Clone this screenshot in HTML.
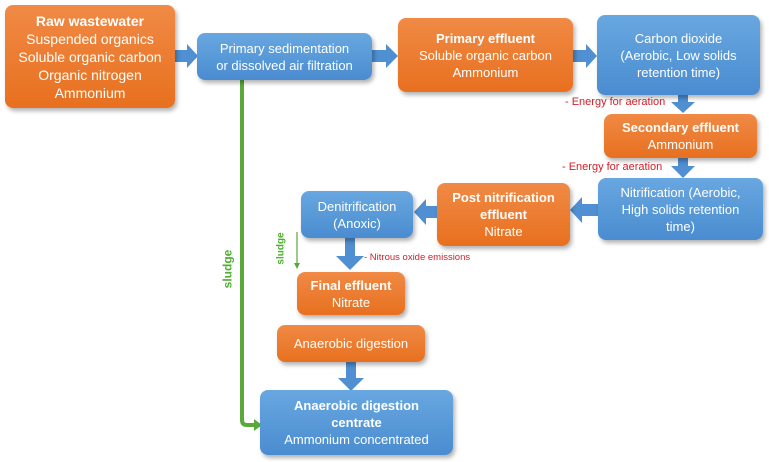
<!DOCTYPE html>
<html><head><meta charset="utf-8"><style>
body{margin:0;width:769px;height:462px;background:#fff;position:relative;overflow:hidden;font-family:"Liberation Sans",sans-serif;}
.b{position:absolute;box-sizing:border-box;border-radius:8px;color:#fff;text-align:center;display:flex;flex-direction:column;justify-content:center;font-size:13px;line-height:17px;box-shadow:2px 3px 4px rgba(0,0,0,0.3);}
.o{background:linear-gradient(#f08a45,#e8701f);}
.u{background:linear-gradient(#68a7e0,#4a8cd0);}
b{font-weight:bold;}
.r{position:absolute;color:#d0202a;font-size:11px;white-space:nowrap;}
.g{position:absolute;color:#4caf30;font-weight:bold;transform:rotate(-90deg);white-space:nowrap;}
svg{position:absolute;left:0;top:0;}
</style></head><body>
<svg width="769" height="462">
<g fill="#4f8fd2">
<polygon points="175,50 187,50 187,44 198,56 187,68 187,62 175,62"/>
<polygon points="372,50 386,50 386,44 398,56 386,68 386,62 372,62"/>
<polygon points="573,50 586,50 586,44 597,56 586,68 586,62 573,62"/>
<polygon points="678,95 688,95 688,102 695,102 683,113 671,102 678,102"/>
<polygon points="678,158 688,158 688,166 695,166 683,178 671,166 678,166"/>
<polygon points="598,204 582,204 582,197 570,210 582,223 582,216 598,216"/>
<polygon points="437,206 426,206 426,199 414,212 426,225 426,218 437,218"/>
<polygon points="345,238 355,238 355,256 364,256 350,270 336,256 345,256"/>
<polygon points="346,362 356,362 356,378 364,378 351,391 338,378 346,378"/>
</g>
<path d="M242,80 V420 Q242,425 247,425 H256" stroke="#5aa83a" stroke-width="4" fill="none"/>
<polygon points="254,419 262,425 254,431" fill="#5aa83a"/>
<line x1="297" y1="232" x2="297" y2="264" stroke="#5aa83a" stroke-width="1.2"/>
<polygon points="294,263 300,263 297,269" fill="#5aa83a"/>
</svg>
<div class="b o" style="left:5px;top:5px;width:170px;height:103px;font-size:14px;line-height:18px"><b>Raw wastewater</b>Suspended organics<br>Soluble organic carbon<br>Organic nitrogen<br>Ammonium</div>
<div class="b u" style="left:197px;top:33px;width:175px;height:47px">Primary sedimentation<br>or dissolved air filtration</div>
<div class="b o" style="left:398px;top:18px;width:175px;height:74px"><b>Primary effluent</b>Soluble organic carbon<br>Ammonium</div>
<div class="b u" style="left:597px;top:15px;width:163px;height:80px">Carbon dioxide<br>(Aerobic, Low solids<br>retention time)</div>
<div class="r" style="left:565px;top:96px">- Energy for aeration</div>
<div class="b o" style="left:604px;top:114px;width:153px;height:44px"><b>Secondary effluent</b>Ammonium</div>
<div class="r" style="left:562px;top:161px">- Energy for aeration</div>
<div class="b u" style="left:598px;top:178px;width:165px;height:62px">Nitrification (Aerobic,<br>High solids retention<br>time)</div>
<div class="b o" style="left:437px;top:183px;width:133px;height:63px"><b>Post nitrification<br>effluent</b>Nitrate</div>
<div class="b u" style="left:301px;top:191px;width:112px;height:47px">Denitrification<br>(Anoxic)</div>
<div class="r" style="left:364px;top:252px;font-size:9.5px">- Nitrous oxide emissions</div>
<div class="g" style="left:265px;top:243px;font-size:10px">sludge</div>
<div class="g" style="left:208px;top:262px;font-size:12px">sludge</div>
<div class="b o" style="left:297px;top:272px;width:108px;height:43px"><b>Final effluent</b>Nitrate</div>
<div class="b o" style="left:277px;top:325px;width:148px;height:37px">Anaerobic digestion</div>
<div class="b u" style="left:260px;top:390px;width:193px;height:65px"><b>Anaerobic digestion<br>centrate</b>Ammonium concentrated</div>
</body></html>
